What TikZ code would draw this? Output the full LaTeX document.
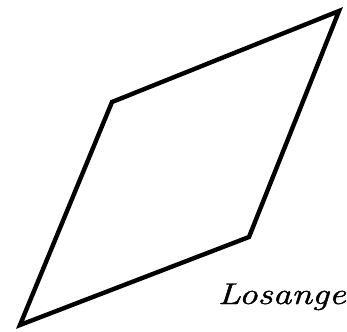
\documentclass[tikz,border=0pt]{standalone}
\usepackage{fontspec}
\setmainfont{Latin Modern Roman}
\newfontfamily\lblfont[FakeBold=1.2]{Latin Modern Roman}
\begin{document}
\begin{tikzpicture}[x=1pt,y=-1pt,
  edge/.style={line width=4.4pt,line join=miter,black},
  lbl/.style={font=\lblfont\fontsize{30}{36}\selectfont\itshape,inner sep=0pt,xscale=1.25}]
\useasboundingbox (0,0) rectangle (347,331);
\coordinate (tr) at (339,11);
\coordinate (tl) at (112,102);
\coordinate (bl) at (20,325);
\coordinate (br) at (249,237);
\draw[edge] (tr) -- (tl) -- (bl) -- (br) -- cycle;
\node[lbl,anchor=base east] (t) at (346,304) {Losange};
\end{tikzpicture}
\end{document}
